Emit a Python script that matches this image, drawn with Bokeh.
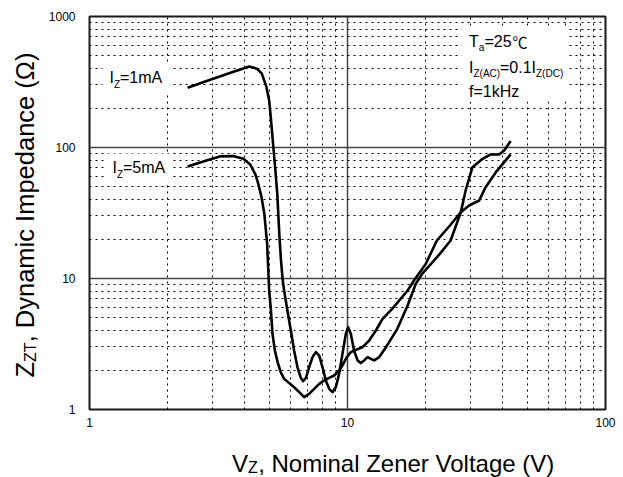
import math
from bokeh.plotting import figure
from bokeh.layouts import row, column
from bokeh.core.properties import value
from bokeh.models import (FixedTicker, CustomJSTickFormatter, Label, BoxAnnotation,
                          ColumnDataSource, Range1d)
from bokeh.embed import file_html
from bokeh.resources import INLINE

# ---------------- data ----------------
vz_1mA = [2.40, 2.9, 3.5, 4.16, 4.45, 4.65, 4.85, 4.97, 5.05, 5.15, 5.25, 5.34, 5.44,
          5.52, 5.60, 5.68, 5.85, 6.03, 6.21, 6.40, 6.59, 6.73, 6.90, 7.10, 7.32,
          7.54, 7.77, 8.00, 8.24, 8.49, 8.75, 9.01, 9.28, 9.56, 9.85, 10.06, 10.30,
          10.6, 10.94, 11.26, 11.6, 11.96, 12.31, 12.69, 13.27, 13.67, 14.1, 15.6,
          17.1, 18.4, 19.5, 22.8, 25.1, 27.5, 28.7, 30.5, 33.4, 35.9, 38.7, 40.5,
          42.9]
zzt_1mA = [286, 326, 370, 415, 400, 368, 290, 228, 165, 105, 68, 45, 22,
           14, 10, 8.09, 5.70, 4.01, 2.82, 2.10, 1.745, 1.645, 1.745, 2.10, 2.51,
           2.74, 2.58, 2.10, 1.665, 1.438, 1.356, 1.48, 1.87, 2.66, 3.78, 4.25, 3.78,
           2.82, 2.37, 2.26, 2.37, 2.51, 2.44, 2.37, 2.51, 2.74, 2.99, 4.13,
           6.22, 9.11, 10.9, 15.4, 19.5, 32.1, 47, 70.8, 82, 88.5, 88.5, 94.9,
           112]

vz_5mA = [2.40, 2.8, 3.2, 3.6, 3.95, 4.2, 4.4, 4.52, 4.64, 4.76, 4.88, 4.97, 5.05,
          5.12, 5.23, 5.36, 5.51, 5.68, 5.94, 6.21, 6.50, 6.79, 7.10, 7.43, 7.77,
          8.12, 8.49, 8.88, 9.28, 9.56, 9.94, 10.3, 10.77, 11.43, 12.13, 12.88,
          13.67, 14.9, 17.1, 18.1, 20.1, 22.2, 25.0, 27.5, 29.6, 32.4, 34.3, 37.6,
          42.9]
zzt_5mA = [71.6, 79, 85.5, 86, 82, 74, 62, 52, 42, 31.2, 18.5, 8.09, 5.70,
           3.78, 2.82, 2.30, 1.93, 1.715, 1.59, 1.48, 1.356, 1.242, 1.317, 1.438, 1.57,
           1.665, 1.745, 1.817, 1.985, 2.17, 2.51, 2.74, 2.85, 2.99, 3.36, 4.01,
           4.92, 5.87, 8.1, 9.66, 12.9, 19.5, 25.5, 32.1, 36.1, 39.4, 49.8, 64.8,
           88.5]

x_ticks = [1, 10, 100]
y_ticks = [1, 10, 100, 1000]
x_minor = [m * d for d in (1, 10) for m in range(2, 10)]
y_minor = [m * d for d in (1, 10, 100) for m in range(2, 10)]

FONT = "Liberation Sans"
MID = 0.3465          # (ascent - descent) / 2 for Liberation Sans, in em
W, H = 623, 477
LEFT_W = 45           # strip holding the y-axis title
BOTTOM_H = 44         # strip holding the x-axis title
FL, FR, FT, FB = 87, 603, 16, 409   # frame edges in picture pixels

def dx(px):
    return 10 ** ((px - FL) / 258.0)

def dy(py):
    return 10 ** ((FB - py) / 131.0)

PW = W - LEFT_W
PH = H - BOTTOM_H
BL = FL - LEFT_W
BR = PW - BL - (FR - FL)
p = figure(x_axis_type="log", y_axis_type="log", x_range=(1, 100), y_range=(1, 1000),
           width=PW, height=PH, frame_width=FR - FL, frame_height=FB - FT,
           min_border_left=BL, min_border_right=BR,
           min_border_top=FT, min_border_bottom=PH - FB,
           output_backend="svg", toolbar_location=None)
p.background_fill_color = "white"
p.border_fill_color = "white"
p.outline_line_color = "#1a1a1a"
p.outline_line_width = 2

xt = FixedTicker(ticks=x_ticks, minor_ticks=x_minor)
yt = FixedTicker(ticks=y_ticks, minor_ticks=y_minor)
p.xaxis.ticker = xt
p.yaxis.ticker = yt
p.xgrid.ticker = xt
p.ygrid.ticker = yt

fmt = CustomJSTickFormatter(code="return String(Math.round(tick));")
for ax in (p.xaxis, p.yaxis):
    ax.formatter = fmt
    ax.axis_line_color = None
    ax.major_tick_line_color = None
    ax.minor_tick_line_color = None
    ax.major_tick_in = 0
    ax.major_tick_out = 0
    ax.major_label_text_font = FONT
    ax.major_label_text_font_size = "12px"
    ax.major_label_text_color = "black"
p.xaxis.major_label_standoff = 4
p.yaxis.major_label_standoff = 10

for g in (p.xgrid, p.ygrid):
    g.grid_line_color = "#444444"
    g.grid_line_width = 1.5
    g.minor_grid_line_color = "black"
    g.minor_grid_line_width = 1
    g.minor_grid_line_dash = "2 4"

# white boxes behind the inner texts
for (l, r, t, b) in [(100, 167, 64, 94), (103, 168, 153, 182), (459, 566, 28, 101)]:
    p.add_layout(BoxAnnotation(left=dx(l), right=dx(r), top=dy(t), bottom=dy(b),
                               fill_color="white", fill_alpha=1.0, line_color=None))

src1 = ColumnDataSource(dict(vz=vz_1mA, zzt=zzt_1mA))
src5 = ColumnDataSource(dict(vz=vz_5mA, zzt=zzt_5mA))
p.line("vz", "zzt", source=src1, line_color="black", line_width=2.6, line_join="round")
p.line("vz", "zzt", source=src5, line_color="black", line_width=2.6, line_join="round")


def txt(px, base, s, size, font=FONT, mid=MID):
    # base = wanted baseline (picture pixels); text is anchored at its middle
    p.add_layout(Label(x=dx(px), y=dy(base - mid * size), text=s, text_font=font,
                       text_font_size=f"{size}px", text_color="black",
                       text_align="left", text_baseline="middle"))

# curve labels
txt(107, 83, "I", 16)
txt(111.5, 87.5, "Z", 10)
txt(117.5, 83, "=1mA", 16)
txt(110, 173, "I", 16)
txt(114.5, 177.5, "Z", 10)
txt(120.5, 173, "=5mA", 16)

# conditions
txt(466.5, 47, "T", 16)
txt(476.3, 50.5, "a", 10)
txt(482, 47, "=25", 16)
txt(510, 47, "\u2103", 15, font="Noto Sans CJK SC", mid=0.38)
txt(466.5, 72.5, "I", 16)
txt(471, 76, "Z(AC)", 10)
txt(497.5, 72.5, "=0.1I", 16)
txt(533.5, 76, "Z(DC)", 10)
txt(466.5, 96.5, "f=1kHz", 16)


def strip(w, h, xr, yr, bl=0, br=0, bt=0, bb=0):
    f = figure(width=w, height=h, x_range=Range1d(*xr), y_range=Range1d(*yr),
               min_border_left=bl, min_border_right=br, min_border_top=bt,
               min_border_bottom=bb, x_axis_location=None, y_axis_location=None,
               output_backend="svg", toolbar_location=None)
    f.grid.visible = False
    f.outline_line_color = None
    f.background_fill_color = "white"
    f.border_fill_color = "white"
    return f


def stxt(f, px, py, s, size, angle=0.0):
    f.text(x=[px], y=[py], text=[s], angle=angle, text_font=value(FONT),
           text_font_size=value(f"{size}px"), text_color="black",
           text_align="left", text_baseline="middle")

# y-axis title strip: frame spans picture x 0..45, y 16..409
fy = strip(LEFT_W, H, (0, LEFT_W), (FB, FT), bt=FT, bb=H - FB)
A = math.pi / 2
YS, YSUB = 25.5, 16
stxt(fy, 33 - MID * YS, 377, "Z", YS, A)
stxt(fy, 35.5 - MID * YSUB, 377 - 0.611 * YS, "ZT", YSUB, A)
stxt(fy, 33 - MID * YS, 377 - 0.611 * YS - 1.222 * YSUB,
     ", Dynamic Impedance (\u03a9)", YS, A)

# x-axis title strip: frame spans picture x 87..603, y 433..477
fx = strip(PW, BOTTOM_H, (FL, FR), (H, PH), bl=BL, br=BR)
XS, XSUB = 24, 16
stxt(fx, 230, 471 - MID * XS, "V", XS)
stxt(fx, 230 + 0.667 * XS, 473 - MID * XSUB, "Z", XSUB)
stxt(fx, 230 + 0.667 * XS + 0.611 * XSUB + 0.5, 471 - MID * XS,
     ", Nominal Zener Voltage (V)", XS)

layout = row(fy, column(p, fx))
open("out.html", "w").write(file_html(layout, INLINE))
